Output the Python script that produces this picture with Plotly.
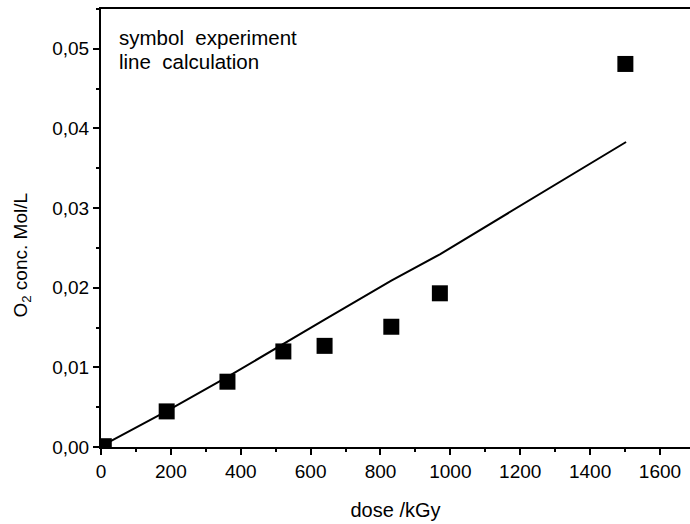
import plotly.graph_objects as go

# experiment (symbols)
exp_dose = [8, 188, 362, 522, 640, 831, 970, 1501]
exp_conc = [0.0001, 0.00447, 0.0082, 0.0120, 0.0127, 0.0151, 0.0193, 0.0481]

# calculation (line)
calc_dose = [5, 188, 362, 522, 640, 831, 970, 1503]
calc_conc = [0.0002, 0.0045, 0.0088, 0.0130, 0.0160, 0.0209, 0.0242, 0.0383]

x_ticks = [0, 200, 400, 600, 800, 1000, 1200, 1400, 1600]
y_ticks = [0.00, 0.01, 0.02, 0.03, 0.04, 0.05]

legend_lines = ["symbol\u00a0\u00a0experiment", "line\u00a0\u00a0calculation"]

FONT = "Liberation Sans, Arial, sans-serif"

fig = go.Figure()
fig.add_trace(go.Scatter(x=calc_dose, y=calc_conc, mode="lines",
                         line=dict(color="black", width=2), showlegend=False))
fig.add_trace(go.Scatter(x=exp_dose, y=exp_conc, mode="markers",
                         marker=dict(symbol="square", size=16, color="black"),
                         showlegend=False))

fig.update_layout(
    width=690, height=524,
    margin=dict(l=101, r=0, t=9, b=77),
    paper_bgcolor="white", plot_bgcolor="white",
    separators=",.",
    font=dict(family=FONT, size=18, color="black"),
    xaxis=dict(range=[0, 1686], tickvals=x_ticks, showgrid=False, zeroline=False,
               showline=True, linecolor="black", linewidth=2, mirror=True,
               ticks="outside", ticklen=6, tickwidth=1.5, tickcolor="black",
               minor=dict(dtick=100, tick0=0, ticks="outside", ticklen=3, tickwidth=1.5, tickcolor="black"),
               tickfont=dict(size=19),
               title=dict(text="dose /kGy", font=dict(size=20), standoff=22)),
    yaxis=dict(range=[0, 0.055], tickvals=y_ticks, tickformat=".2f", showgrid=False, zeroline=False,
               showline=True, linecolor="black", linewidth=2,
               ticks="outside", ticklen=6, tickwidth=1.5, tickcolor="black",
               minor=dict(dtick=0.005, tick0=0, ticks="outside", ticklen=3, tickwidth=1.5, tickcolor="black"),
               tickfont=dict(size=19)),
    annotations=[
        dict(text=legend_lines[0], xref="paper", yref="paper", x=0.027, y=0.934,
             xanchor="left", yanchor="middle", showarrow=False, font=dict(size=20.5)),
        dict(text=legend_lines[1], xref="paper", yref="paper", x=0.027, y=0.879,
             xanchor="left", yanchor="middle", showarrow=False, font=dict(size=20.5)),
        dict(text="O<sub>2</sub> conc. Mol/L", textangle=-90,
             xref="paper", yref="paper", x=0, y=0.437, xshift=-79,
             xanchor="center", yanchor="middle", showarrow=False, font=dict(size=19)),
    ],
)

fig.write_html("out.html")
